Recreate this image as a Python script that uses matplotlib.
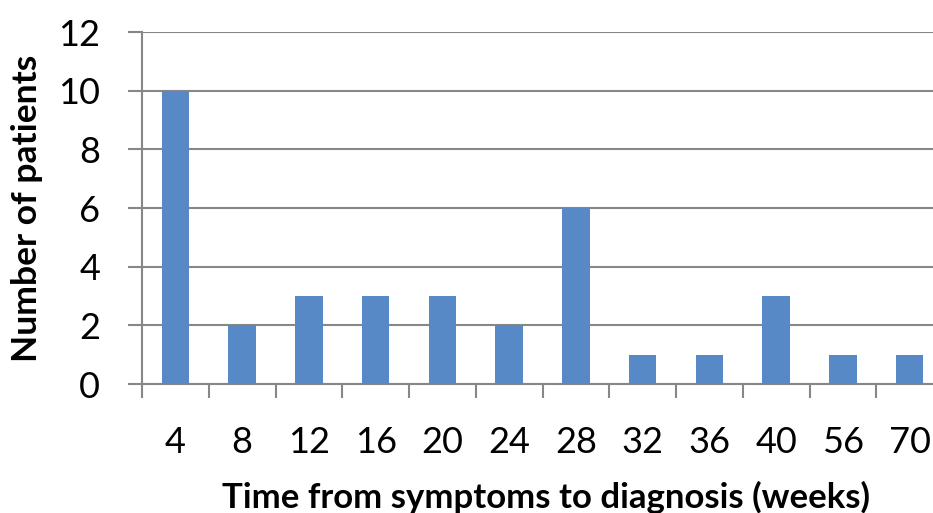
import numpy as np
import matplotlib.pyplot as plt

weeks = ['4', '8', '12', '16', '20', '24', '28', '32', '36', '40', '56', '70']
patients = [10, 2, 3, 3, 3, 2, 6, 1, 1, 3, 1, 1]

plt.rcParams['font.family'] = ['Lato', 'DejaVu Sans']

grid_col = '#878787'
bar_col = '#5689C5'

W, H = 933, 513
fig = plt.figure(figsize=(W / 100, H / 100), dpi=100)
# plot area runs past the right edge, as in the original export
ax = fig.add_axes([142 / W, (H - 384) / H, (943 - 142) / W, (384 - 32) / H])

x = np.arange(len(weeks))
ax.bar(x, patients, width=0.41, color=bar_col, zorder=3)

ax.set_xlim(-0.5, len(weeks) - 0.5)
ax.set_ylim(0, 12)
ax.set_yticks(range(0, 13, 2))
ax.yaxis.grid(True, color=grid_col, linewidth=1.5, zorder=0)

ax.set_xticks(x)
ax.set_xticklabels(weeks)
ax.set_xticks(np.arange(-0.5, len(weeks) - 0.5, 1.0), minor=True)
ax.tick_params(axis='x', which='major', length=0, pad=30, labelsize=26)
ax.tick_params(axis='x', which='minor', length=10, width=1.5, color=grid_col)
ax.tick_params(axis='y', length=10, width=1.5, color=grid_col, pad=20, labelsize=26)

for side in ['top', 'right']:
    ax.spines[side].set_visible(False)
for side in ['left', 'bottom']:
    ax.spines[side].set_color(grid_col)
    ax.spines[side].set_linewidth(1.5)

fig.text(27 / W, 1 - 208 / H, 'Number of patients', rotation=90,
         ha='center', va='center', fontsize=25.5, fontweight='bold')
fig.text(546 / W, 1 - 497 / H, 'Time from symptoms to diagnosis (weeks)',
         ha='center', va='center', fontsize=25, fontweight='bold')

fig.savefig('out.png', dpi=100)
